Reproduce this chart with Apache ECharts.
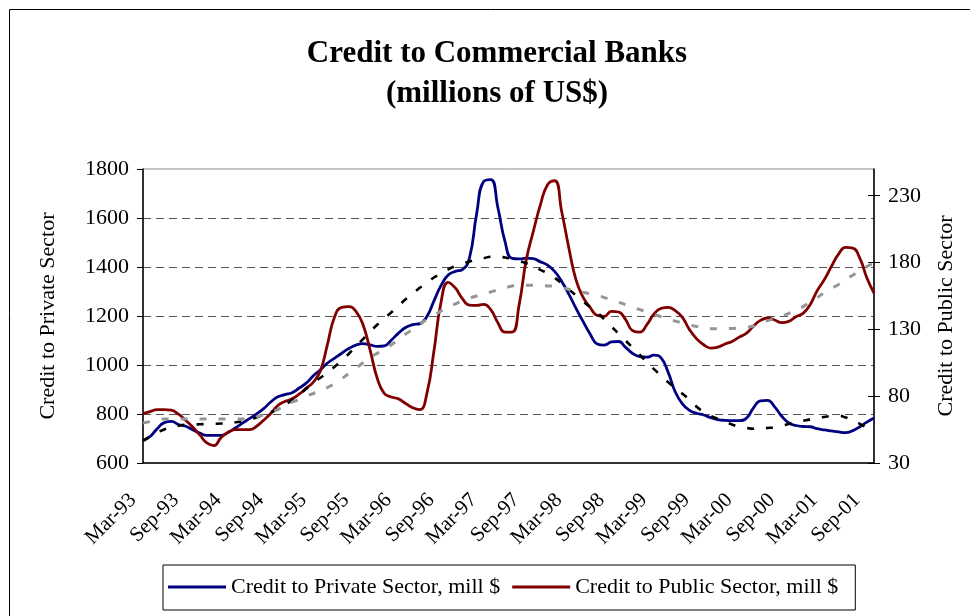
<!DOCTYPE html>
<html>
<head>
<meta charset="utf-8">
<title>Credit to Commercial Banks</title>
<script src="https://cdn.jsdelivr.net/npm/echarts@6/dist/echarts.min.js"></script>
<style>
  html, body { margin: 0; padding: 0; background: #fff; }
  #chart { width: 970px; height: 616px; }
</style>
</head>
<body>
<div id="chart"></div>
<script>
// Monthly observations, Mar-93 to Oct-01
const categories = [
  'Mar-93','Apr-93','May-93','Jun-93','Jul-93','Aug-93','Sep-93','Oct-93','Nov-93','Dec-93',
  'Jan-94','Feb-94','Mar-94','Apr-94','May-94','Jun-94','Jul-94','Aug-94','Sep-94','Oct-94','Nov-94','Dec-94',
  'Jan-95','Feb-95','Mar-95','Apr-95','May-95','Jun-95','Jul-95','Aug-95','Sep-95','Oct-95','Nov-95','Dec-95',
  'Jan-96','Feb-96','Mar-96','Apr-96','May-96','Jun-96','Jul-96','Aug-96','Sep-96','Oct-96','Nov-96','Dec-96',
  'Jan-97','Feb-97','Mar-97','Apr-97','May-97','Jun-97','Jul-97','Aug-97','Sep-97','Oct-97','Nov-97','Dec-97',
  'Jan-98','Feb-98','Mar-98','Apr-98','May-98','Jun-98','Jul-98','Aug-98','Sep-98','Oct-98','Nov-98','Dec-98',
  'Jan-99','Feb-99','Mar-99','Apr-99','May-99','Jun-99','Jul-99','Aug-99','Sep-99','Oct-99','Nov-99','Dec-99',
  'Jan-00','Feb-00','Mar-00','Apr-00','May-00','Jun-00','Jul-00','Aug-00','Sep-00','Oct-00','Nov-00','Dec-00',
  'Jan-01','Feb-01','Mar-01','Apr-01','May-01','Jun-01','Jul-01','Aug-01','Sep-01','Oct-01'
];

// Credit to private sector, millions of US$ (left axis)
const privateSector = [
  691, 708, 740, 765, 770, 757, 750, 736, 722, 713,
  713, 713, 725, 743, 763, 781, 800, 822, 849, 870,
  879, 887, 906, 926, 956, 980, 1008, 1028, 1048, 1067,
  1081, 1087, 1082, 1076, 1078, 1102, 1130, 1153, 1165, 1169,
  1198, 1262, 1325, 1367, 1382, 1389, 1437, 1615, 1749, 1757,
  1643, 1505, 1435, 1433, 1436, 1434, 1421, 1408, 1382, 1341,
  1289, 1232, 1178, 1127, 1086, 1081, 1094, 1096, 1072, 1047,
  1034, 1032, 1040, 1029, 970, 890, 841, 815, 803, 796,
  785, 777, 774, 773, 773, 782, 824, 854, 856, 829,
  791, 764, 753, 749, 748, 740, 735, 731, 727, 724,
  732, 748, 767, 784
];

// Credit to public sector, millions of US$ (right axis)
const publicSector = [
  67, 68.5, 70, 70, 69.5, 66.5, 62, 57, 51, 45,
  43, 49, 53, 55, 55, 55, 57.5, 62, 67, 73,
  76, 78, 81.5, 86, 90.5, 99, 119, 139.5, 146.4, 147,
  143.5, 133.5, 114.5, 93.5, 82, 79.4, 78, 74.5, 71.4, 70,
  82, 114, 150.5, 165.2, 161, 153, 148.2, 148, 148.7, 144.7,
  135, 128, 128, 148.5, 182, 203.4, 223.3, 238.2, 241.2, 218,
  191, 167.2, 154.2, 146.4, 140.5, 139.7, 143.5, 143, 137.3, 129,
  128, 133.5, 141.5, 145.7, 146.4, 144, 139, 129.8, 123, 118.5,
  116, 116.7, 119, 121, 124.2, 127, 132.3, 136.7, 138.5, 137,
  135, 136, 139.5, 142, 148.5, 159, 167.2, 177.1, 186.3, 191.3,
  190.8, 183.3, 168.4, 157.2
];

// Trend of private-sector credit (left axis)
const privateTrend = [
  691, 708, 724, 737, 745, 752, 756, 757, 758, 759,
  760, 761, 763, 766, 770, 777, 786, 795, 807, 820,
  836, 857, 879, 903, 927, 948, 968, 993, 1018, 1046,
  1076, 1106, 1136, 1164, 1190, 1215, 1242, 1268, 1292, 1315,
  1336, 1357, 1374, 1390, 1403, 1413, 1422, 1430, 1436, 1442,
  1442, 1439, 1433, 1425, 1415, 1402, 1388, 1374, 1356, 1333,
  1309, 1285, 1260, 1237, 1215, 1186, 1157, 1128, 1100, 1070,
  1041, 1012, 983, 957, 930, 906, 883, 858, 830, 808,
  792, 780, 768, 757, 747, 743, 740, 741, 743, 746,
  752, 759, 766, 772, 778, 783, 788, 792, 793, 786,
  774, 760, 743, 728
];

// Trend of public-sector credit (right axis)
const publicTrend = [
  60, 61, 62, 63, 63, 63, 63, 63, 63, 63,
  63, 63, 63, 63, 63, 63, 64.5, 66, 68, 70,
  73, 75.5, 77.5, 80, 82, 84, 86.5, 89.5, 93, 97,
  100.8, 105, 109, 112, 115, 118.5, 122.5, 126.5, 130, 134,
  137.5, 140.5, 143.8, 146.5, 149, 151.5, 153.5, 155, 156.5, 158,
  159.6, 161, 162.5, 163, 163, 163, 162.8, 162.5, 162.2, 161.2,
  160, 159, 157.8, 156.7, 155.5, 153.8, 152, 150.3, 148.5, 146.6,
  144.8, 143, 141.2, 139.5, 137.8, 136.2, 134.8, 133.3, 132.2, 131.2,
  130.5, 130.5, 130.5, 130.7, 131, 131.4, 132.5, 134.5, 136.5, 138,
  139.8, 142, 144.5, 147, 150.5, 153.8, 157.5, 160.6, 163.6, 167,
  170.5, 174, 177, 180
];

// Tick labels of the right-hand axis
const publicTicks = [30, 80, 130, 180, 230];

const FONT = "'Liberation Serif', 'Times New Roman', serif";
const PRIVATE_NAME = 'Credit to Private Sector, mill $';
const PUBLIC_NAME = 'Credit to Public Sector, mill $';

const chart = echarts.init(document.getElementById('chart'), null, { renderer: 'canvas' });

chart.setOption({
  animation: false,
  backgroundColor: '#fff',
  title: {
    text: 'Credit to Commercial Banks\n(millions of US$)',
    left: 492,
    top: 29,
    textAlign: 'center',
    padding: 5,
    textStyle: {
      fontFamily: FONT,
      fontSize: 31,
      fontWeight: 'bold',
      color: '#000',
      lineHeight: 40
    }
  },
  graphic: [{
    type: 'rect',
    shape: { x: 9.5, y: 9.5, width: 1000, height: 700 },
    style: { fill: 'none', stroke: '#000', lineWidth: 1 },
    silent: true
  }],
  legend: {
    data: [PRIVATE_NAME, PUBLIC_NAME],
    left: 163,
    top: 565,
    padding: [11, 17, 12, 5],
    itemGap: 12,
    itemWidth: 58,
    itemHeight: 3,
    icon: 'rect',
    borderColor: '#000',
    borderWidth: 1,
    textStyle: { fontFamily: FONT, fontSize: 22, color: '#000' }
  },
  grid: {
    left: 143,
    right: 96,
    top: 169,
    bottom: 153,
    show: true,
    borderColor: '#8c8c8c',
    borderWidth: 1
  },
  xAxis: {
    type: 'category',
    data: categories,
    boundaryGap: false,
    axisLine: { lineStyle: { color: '#000', width: 1.5 } },
    axisTick: { show: false },
    axisLabel: {
      interval: 5,
      rotate: 45,
      margin: 24,
      padding: [0, 14, 0, 0],
      fontFamily: FONT,
      fontSize: 21,
      color: '#000'
    },
    splitLine: { show: false }
  },
  yAxis: [{
    type: 'value',
    position: 'left',
    min: 600,
    max: 1800,
    interval: 200,
    name: 'Credit to Private Sector',
    nameLocation: 'middle',
    nameGap: 84,
    nameTextStyle: { fontFamily: FONT, fontSize: 22, color: '#000' },
    axisLine: { show: true, lineStyle: { color: '#000', width: 1.5 } },
    axisTick: { show: true, length: 6, lineStyle: { color: '#000' } },
    axisLabel: {
      margin: 14,
      formatter: (v) => String(v),
      fontFamily: FONT,
      fontSize: 22,
      color: '#000'
    },
    splitLine: {
      show: true,
      showMinLine: false,
      showMaxLine: false,
      lineStyle: { color: '#555', width: 1, type: [8, 5] }
    }
  }, {
    type: 'value',
    position: 'right',
    min: 30,
    max: 250,
    interval: 50,
    name: 'Credit to Public Sector',
    nameLocation: 'middle',
    nameRotate: 90,
    nameGap: 61,
    nameTextStyle: { fontFamily: FONT, fontSize: 22, color: '#000' },
    axisLine: { show: true, lineStyle: { color: '#000', width: 1.5 } },
    axisTick: { show: true, length: 6, customValues: publicTicks, lineStyle: { color: '#000' } },
    axisLabel: { margin: 14, customValues: publicTicks, fontFamily: FONT, fontSize: 22, color: '#000' },
    splitLine: { show: false }
  }, {
    // inner half of the cross ticks on the right-hand axis
    type: 'value',
    position: 'right',
    min: 30,
    max: 250,
    interval: 50,
    axisLine: { show: false },
    axisTick: { show: true, inside: true, length: 6, customValues: publicTicks, lineStyle: { color: '#000' } },
    axisLabel: { show: false },
    splitLine: { show: false }
  }],
  series: [{
    name: PRIVATE_NAME,
    type: 'line',
    yAxisIndex: 0,
    data: privateSector,
    smooth: 0.5,
    showSymbol: false,
    color: '#000080',
    lineStyle: { color: '#000080', width: 2.8 },
    z: 2
  }, {
    name: PUBLIC_NAME,
    type: 'line',
    yAxisIndex: 1,
    data: publicSector,
    smooth: 0.5,
    showSymbol: false,
    color: '#800000',
    lineStyle: { color: '#800000', width: 2.8 },
    z: 2
  }, {
    name: 'Private sector trend',
    type: 'line',
    yAxisIndex: 0,
    data: privateTrend,
    smooth: 0.5,
    showSymbol: false,
    color: '#000',
    lineStyle: { color: '#000', width: 2.6, type: [7, 12] },
    z: 3
  }, {
    name: 'Public sector trend',
    type: 'line',
    yAxisIndex: 1,
    data: publicTrend,
    smooth: 0.5,
    showSymbol: false,
    color: '#969696',
    lineStyle: { color: '#969696', width: 3, type: [7, 12] },
    z: 3
  }]
});
</script>
</body>
</html>
